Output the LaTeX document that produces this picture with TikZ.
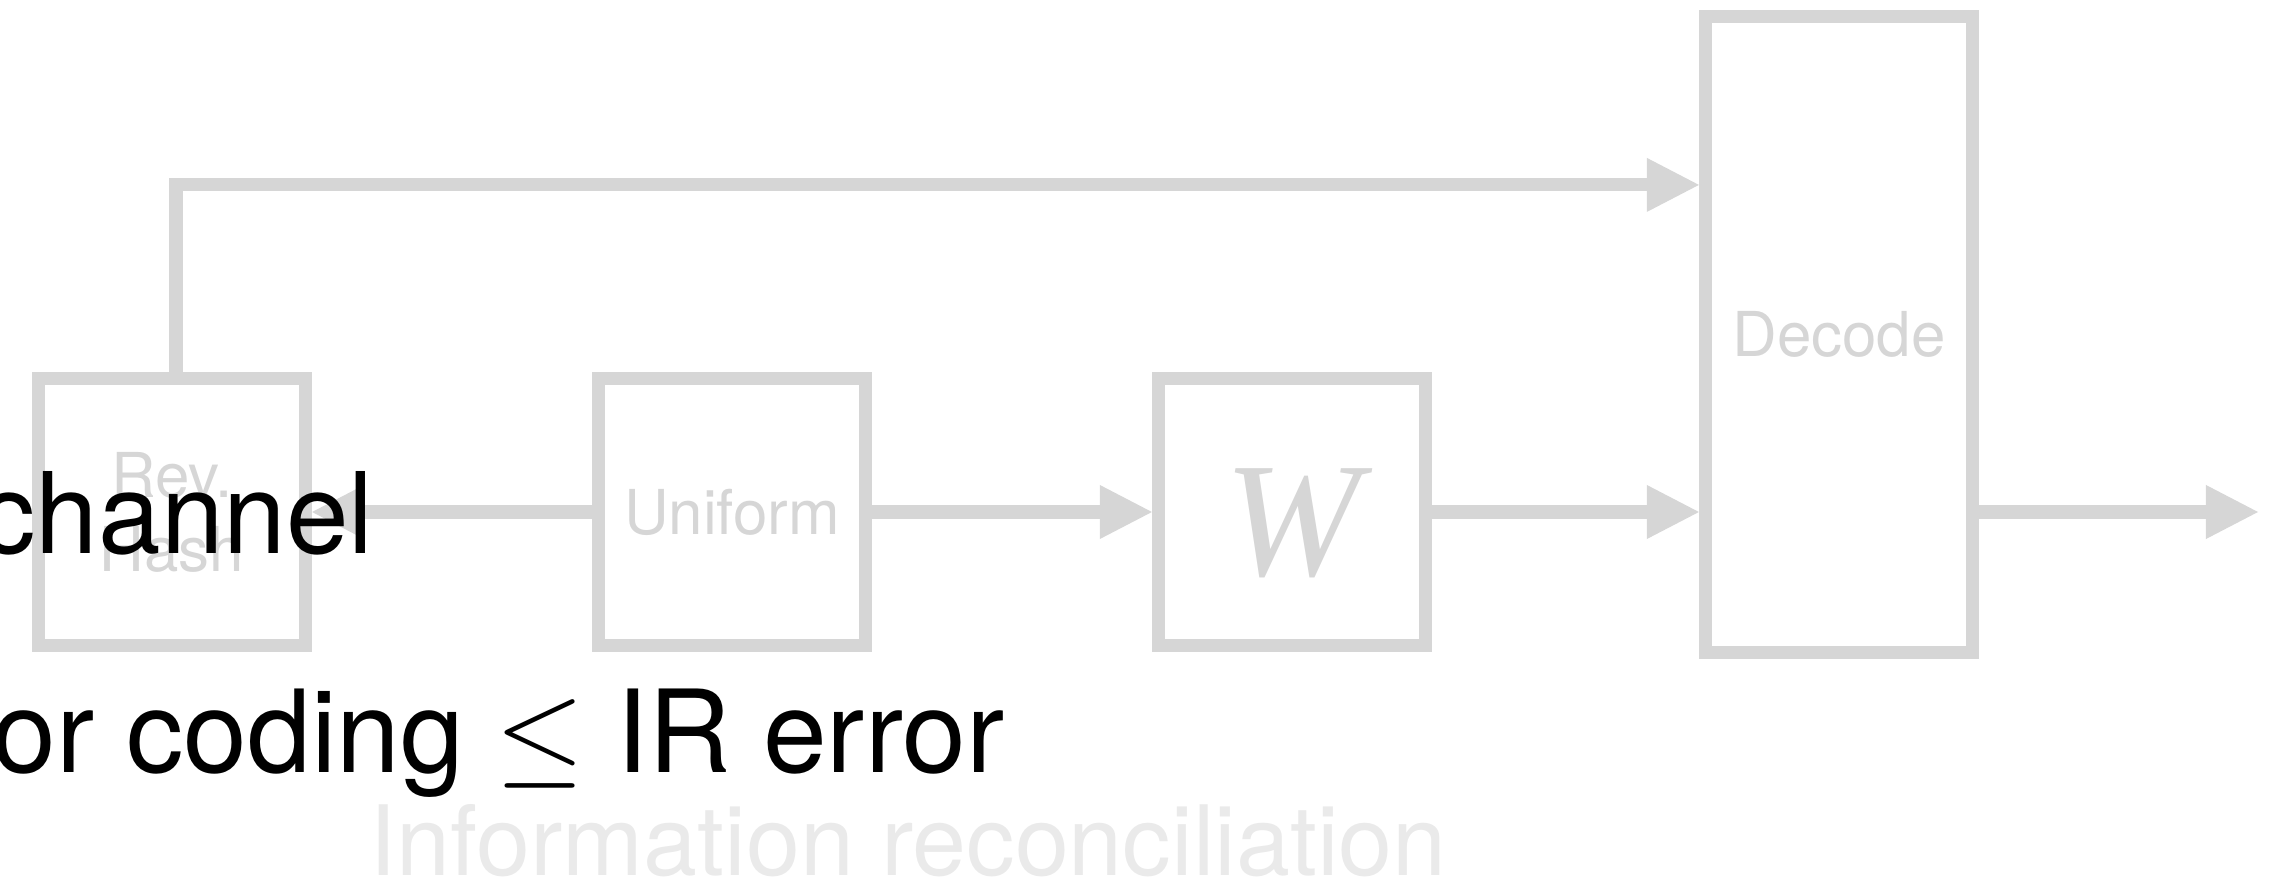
\RequirePackage{fix-cm}
\documentclass[tikz,border=0pt]{standalone}
\usepackage{fontspec}
\setmainfont{TeX Gyre Heros}
\newfontfamily\serifit{Liberation Serif}
\usetikzlibrary{arrows.meta}
\definecolor{boxgray}{RGB}{214,214,214}
\definecolor{notegray}{RGB}{234,234,234}

\begin{document}
\begin{tikzpicture}[x=0.01cm,y=-0.01cm,
  box/.style={draw=boxgray,line width=0.13cm,minimum width=2.67cm,minimum height=2.67cm,inner sep=0pt,text=boxgray,align=center,font=\fontsize{17.6}{21}\selectfont},
  flow/.style={draw=boxgray,line width=0.13cm,-{Triangle[length=0.52cm,width=0.54cm,line width=0pt]}},
  big/.style={inner sep=0pt,anchor=base west,font=\fontsize{32}{38}\selectfont}]
\useasboundingbox (0,0) rectangle (2269,885);
\node[box] (rev) at (172,512) {Rev.\\Hash};
\node[box] (unif) at (732,512) {Uniform};
\node[box,font=\serifit\itshape\fontsize{46.4}{50}\selectfont,text height=1.26cm,text depth=0pt] (w) at (1292,512) {W};
\node[box,minimum height=6.36cm] (dec) at (1839,334.5) {Decode};
\coordinate (out) at (2258,512);
\draw[flow] ([xshift=0.04cm]rev.north) |- ([yshift=1.495cm]dec.west);
\draw[flow] (unif.west) -- (rev.east);
\draw[flow] (unif.east) -- (w.west);
\draw[flow] (w.east) -- (w.east -| dec.west);
\draw[flow] (w.east -| dec.east) -- (out);
% slide text on top
\node[big] (chan) at (-21,553) {channel};
\node[big,font=\fontsize{32.6}{39}\selectfont] (code) at (-39,772) {for coding $\leq$ IR error};
\node[inner sep=0pt,anchor=base,text=notegray,font=\fontsize{27.6}{33}\selectfont] (ir) at (908,875) {Information reconciliation};
\end{tikzpicture}
\end{document}
